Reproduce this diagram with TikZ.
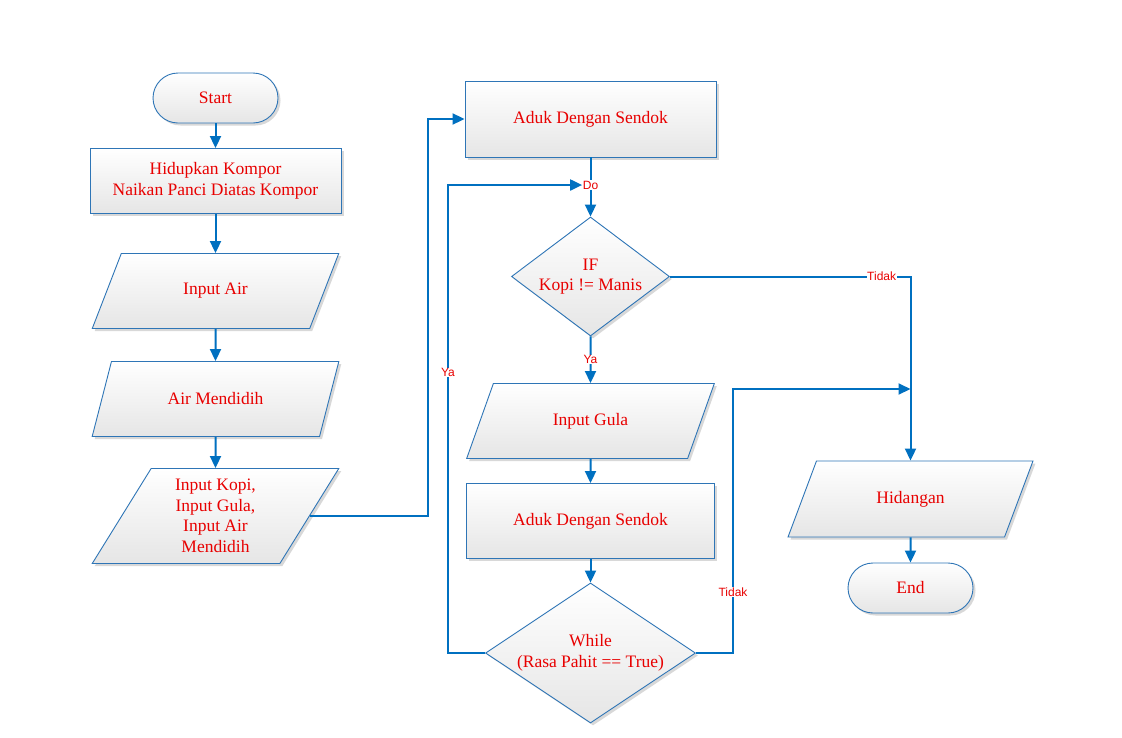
\documentclass[tikz,border=0pt]{standalone}
\usepackage{fontspec}
\setmainfont{Liberation Serif}
\newfontfamily\lblfont{Liberation Sans}
\usetikzlibrary{shapes.geometric,shadows,arrows.meta}
\definecolor{lineblue}{RGB}{0,112,192}
\definecolor{edgeblue}{RGB}{46,117,182}
\definecolor{txtred}{RGB}{232,0,0}
\begin{document}
\begin{tikzpicture}[x=1pt,y=-1pt,
 txt/.style={font=\fontsize{17.5}{20.5}\selectfont, text=txtred, align=center},
 base/.style={txt, draw=edgeblue, line width=0.9pt, top color=white, bottom color=black!10,
   drop shadow={shadow xshift=2.5pt,shadow yshift=-2.5pt,fill=black!25,opacity=0.6}},
 term/.style={base, rectangle, rounded corners=25pt, minimum width=125pt, minimum height=50pt},
 procbox/.style={base, rectangle, minimum width=251pt, minimum height=#1},
 procbox/.default=75pt,
 io/.style={base, trapezium, trapezium left angle=63.43, trapezium right angle=116.57,
   trapezium stretches=true, minimum width=247pt, minimum height=#1},
 io/.default=75pt,
 decision/.style={base, diamond, inner sep=0pt},
 conn/.style={lineblue, line width=2pt},
 flow/.style={conn, -{Triangle[length=12pt,width=11pt]}},
 lbl/.style={fill=white, inner sep=0.5pt, text=txtred, font=\lblfont\fontsize{12}{13}\selectfont}
]
\useasboundingbox (0,0) rectangle (1122,737);
\fill[white] (0,0) rectangle (1122,737);

% left column
\node[term] (start) at (215.5,98) {Start};
\node[procbox=65pt] (b1) at (215.5,181) {Hidupkan Kompor\\Naikan Panci Diatas Kompor};
\node[io=75pt] (air) at (215.5,291) {Input Air};
\node[io=75pt] (mendidih) at (215.5,399) {Air Mendidih};
\node[io=95pt] (kopi) at (215.5,516) {Input Kopi,\\Input Gula,\\Input Air\\Mendidih};

% middle column
\node[procbox=76pt] (aduk1) at (590.5,119) {Aduk Dengan Sendok};
\node[lbl] (do) at (590.5,185) {Do};
\node[decision, minimum width=158pt, minimum height=119pt,
      label={[txt]center:IF\\Kopi != Manis}] (if) at (590.5,276.5) {};
\node[io=75pt, minimum width=248pt] (gula) at (590.5,421) {Input Gula};
\node[procbox=75pt, minimum width=248pt] (aduk2) at (590.5,521) {Aduk Dengan Sendok};
\node[decision, minimum width=210pt, minimum height=140pt,
      label={[txt]center:While\\(Rasa Pahit == True)}] (while) at (590.5,653) {};

% right column
\node[io=76pt] (hid) at (910.5,499) {Hidangan};
\node[term] (end) at (910.5,588) {End};

\coordinate (c1) at (428,119);
\coordinate (c2) at (448,185);
\coordinate (c3) at (733,389);
\coordinate (c4) at (910.5,389);

% connectors
\draw[flow] (start) -- (b1);
\draw[flow] (b1) -- (air);
\draw[flow] (air) -- (mendidih);
\draw[flow] (mendidih) -- (kopi);
\draw[flow] (kopi.east) -| (c1) -- (aduk1.west);
\draw[conn] (aduk1) -- (do);
\draw[flow] (do) -- (if);
\draw[flow] (while.west) -| node[lbl,pos=0.8]{Ya} (c2) -- (do.west);
\draw[flow] (if.south) -- node[lbl]{Ya} (gula.north);
\draw[flow] (if.east) -| node[lbl,pos=0.44]{Tidak} (hid.north);
\draw[flow] (gula) -- (aduk2);
\draw[flow] (aduk2) -- (while);
\draw[flow] (while.east) -| node[lbl,pos=0.615]{Tidak} (c3) -- (c4);
\draw[flow] (hid) -- (end);
\end{tikzpicture}
\end{document}
